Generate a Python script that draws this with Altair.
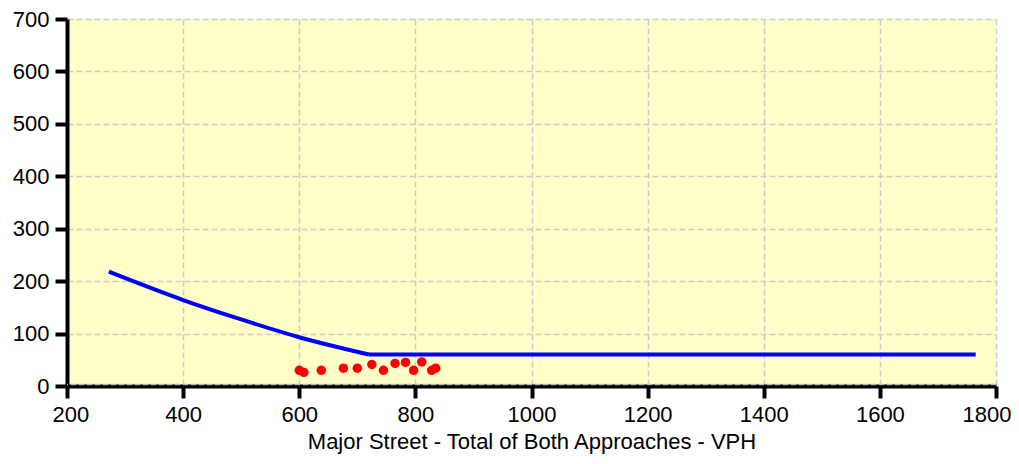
import altair as alt
import pandas as pd

# Warrant curve (major street total vs minor street high-volume approach)
curve_x = [272, 400, 500, 600, 720]
curve_y = [218, 164, 127, 93, 60]
# Minimum threshold segment
floor_x = [720, 1765]
floor_y = [60, 60]

# Observed hourly volumes
obs_x = [600, 608, 638, 676, 700, 725, 745, 765, 783, 797, 811, 828, 835]
obs_y = [30, 26, 30, 34, 34, 41, 30, 43, 45, 30, 46, 30, 34]

x_ticks = [200, 400, 600, 800, 1000, 1200, 1400, 1600, 1800]
y_ticks = [0, 100, 200, 300, 400, 500, 600, 700]

x_title = "Major Street - Total of Both Approaches - VPH"

curve_df = pd.DataFrame({"x": curve_x, "y": curve_y, "order": list(range(len(curve_x)))})
floor_df = pd.DataFrame({"x": floor_x, "y": floor_y})
obs_df = pd.DataFrame({"x": obs_x, "y": obs_y})
zero_df = pd.DataFrame({"y": [0]})

FONT = "Liberation Sans"

x_scale = alt.Scale(domain=[200, 1800], nice=False, zero=False)
y_scale = alt.Scale(domain=[0, 700], nice=False)

x_axis = alt.Axis(values=x_ticks, title=x_title, grid=True, format="d",
                  labelFlush=True, labelFlushOffset=15)
y_axis = alt.Axis(values=y_ticks, title=None, grid=True, format="d", labelFlush=False)

curve = alt.Chart(curve_df).mark_line(
    color="#0000FF", strokeWidth=4, clip=True, interpolate="monotone"
).encode(
    x=alt.X("x:Q", scale=x_scale, axis=x_axis),
    y=alt.Y("y:Q", scale=y_scale, axis=y_axis),
    order="order:Q",
)

floor = alt.Chart(floor_df).mark_line(color="#0000FF", strokeWidth=4, clip=True).encode(
    x=alt.X("x:Q", scale=x_scale),
    y=alt.Y("y:Q", scale=y_scale),
)

zero_rule = alt.Chart(zero_df).mark_rule(
    color="#BBBBBB", strokeWidth=1.5, strokeDash=[5, 3], yOffset=-1.5
).encode(y=alt.Y("y:Q", scale=y_scale))

points = alt.Chart(obs_df).mark_circle(color="#FF0000", opacity=1, size=90).encode(
    x=alt.X("x:Q", scale=x_scale),
    y=alt.Y("y:Q", scale=y_scale),
)

chart = (
    alt.layer(curve, floor, points, zero_rule)
    .properties(
        width=929,
        height=367,
        autosize=alt.AutoSizeParams(type="none"),
        padding={"left": 59, "top": 11, "right": 15, "bottom": 70},
    )
    .configure_view(fill="#FFFFC8", strokeWidth=0)
    .configure_axis(
        labelFont=FONT,
        titleFont=FONT,
        labelFontSize=22,
        titleFontSize=22,
        labelColor="#000000",
        titleColor="#000000",
        titleFontWeight="normal",
        domainColor="#000000",
        domainWidth=4,
        tickColor="#000000",
        tickWidth=4,
        tickSize=12,
        labelPadding=6,
        gridColor="#CCCCCC",
        gridWidth=1.5,
        gridDash=[6, 3],
        zindex=0,
    )
    .configure_axisX(titlePadding=6)
)

chart.save("out.html", embed_options={"renderer": "svg", "actions": False})
